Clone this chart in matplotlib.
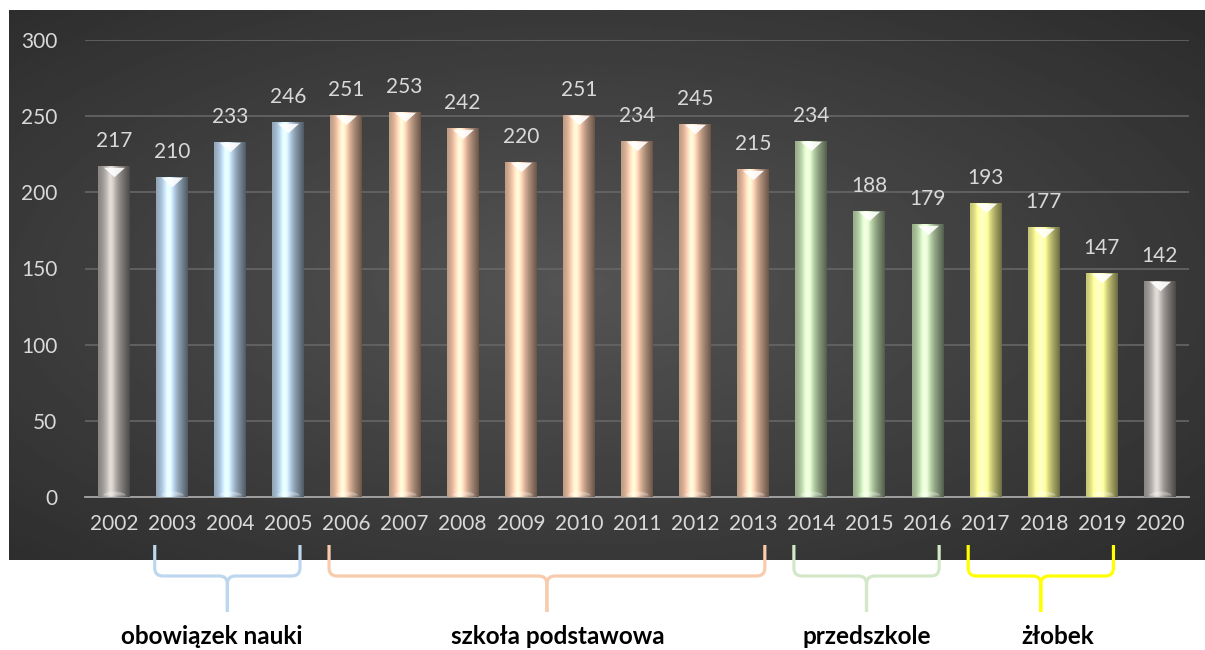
import numpy as np
import matplotlib.pyplot as plt
from matplotlib.path import Path
from matplotlib.patches import PathPatch
from matplotlib.colors import to_rgb
import matplotlib.transforms as mtransforms

plt.rcParams['font.family'] = ['Lato', 'DejaVu Sans']

years = [str(y) for y in range(2002, 2021)]
values = [217, 210, 233, 246, 251, 253, 242, 220, 251, 234, 245, 215,
          234, 188, 179, 193, 177, 147, 142]
bar_colors = (['#B3AEAA'] + ['#BDD7EE'] * 3 + ['#F8CBAD'] * 8 +
              ['#C5E0B4'] * 3 + ['#FFFF99'] * 3 + ['#B3AEAA'])

groups = ['obowiązek nauki', 'szkoła podstawowa', 'przedszkole', 'żłobek']
group_span = [(1, 3), (4, 11), (12, 14), (15, 17)]
group_colors = ['#BDD7EE', '#F8CBAD', '#D3E8C8', '#FFFF00']
label_shift = [-16, 11, 0, 17]  # px, label vs brace tip

W, H = 1205, 650
fig = plt.figure(figsize=(W / 100, H / 100), dpi=100)

# dark gradient panel
bg = fig.add_axes([9 / W, (H - 560) / H, (W - 9) / W, 550 / H])
yy, xx = np.mgrid[-1:1:200j, -1:1:400j]
r = np.sqrt(((xx + 0.05) / 1.1) ** 2 + (yy / 1.1) ** 2)
bg.imshow(np.clip(0.33 - 0.12 * r, 0.14, 1), cmap='gray', vmin=0, vmax=1,
          aspect='auto', extent=[0, 1, 0, 1])
bg.axis('off')

ax = fig.add_axes([85 / W, (H - 497) / H, 1104 / W, 457 / H])
ax.patch.set_alpha(0)
x = np.arange(len(years))
bw = 0.55
bars = ax.bar(x, values, width=bw, color=bar_colors, zorder=2)

prof = np.linspace(0, 1, 60)
shade = 0.72 + 0.38 * np.exp(-((prof - 0.4) / 0.28) ** 2) - 0.3 * prof ** 4
glow = 0.12 * np.exp(-((prof - 0.4) / 0.12) ** 2)
for b, c, v, xi in zip(bars, bar_colors, values, x):
    base = np.array(to_rgb(c))
    img = np.clip(base[None, :] * shade[:, None] + glow[:, None], 0, 1)
    im = ax.imshow(img[None, :, :], extent=[xi - bw / 2, xi + bw / 2, 0, v],
                   aspect='auto', zorder=3)
    im.set_clip_path(b)
    ax.annotate(str(v), (xi, v), xytext=(0, 18), textcoords='offset points',
                ha='center', va='center', color='#D9D9D9', fontsize=15,
                annotation_clip=False)

tri = [(-1, 0.45), (1, 0.45), (0, -0.45), (-1, 0.45)]
ax.scatter(x, np.array(values) - 3.5, marker=tri, s=230, color='white',
           alpha=0.9, linewidths=0, zorder=4)
t = np.linspace(0, np.pi, 30)
dome = list(zip(np.cos(t), 0.35 * np.sin(t)))
ax.scatter(x, np.full(len(x), 1.5), marker=dome, s=260, color='white',
           alpha=0.3, linewidths=0, zorder=4)

ax.set_xlim(-0.5, len(years) - 0.5)
ax.set_ylim(0, 300)
ax.set_yticks(range(0, 301, 50))
ax.set_xticks(x)
ax.set_xticklabels(years)
ax.yaxis.grid(True, color='#666666', linewidth=1.2, zorder=0)
ax.set_axisbelow(True)
for s in ['top', 'right', 'left']:
    ax.spines[s].set_visible(False)
ax.spines['bottom'].set_color('#A6A6A6')
ax.spines['bottom'].set_linewidth(1.3)
ax.tick_params(axis='both', length=0, colors='#D9D9D9', labelsize=15)
ax.tick_params(axis='y', pad=20)
ax.tick_params(axis='x', pad=12)

# braces under year labels
trans = mtransforms.blended_transform_factory(ax.transData, fig.transFigure)
y_top, y_mid, y_bot = (H - 545) / H, (H - 576) / H, (H - 612) / H
ry = 8 / H
rx = 0.14
for (i0, i1), name, col, dx in zip(group_span, groups, group_colors, label_shift):
    x0, x1 = i0 - 0.3, i1 + 0.2
    xc = (x0 + x1) / 2
    for xs, sgn in [(x0, 1), (x1, -1)]:
        verts = [(xs, y_top), (xs, y_mid + ry), (xs, y_mid), (xs + sgn * rx, y_mid),
                 (xc - sgn * rx, y_mid), (xc, y_mid), (xc, y_mid - ry), (xc, y_bot)]
        codes = [Path.MOVETO, Path.LINETO, Path.CURVE3, Path.CURVE3,
                 Path.LINETO, Path.CURVE3, Path.CURVE3, Path.LINETO]
        fig.add_artist(PathPatch(Path(verts, codes), transform=trans, fill=False,
                                 edgecolor=col, linewidth=2.3, capstyle='butt'))
    off = mtransforms.offset_copy(trans, fig=fig, x=dx, units='dots')
    fig.text(xc, (H - 637) / H, name, transform=off, ha='center', va='center',
             fontsize=17.5, fontweight='bold', color='black')

fig.savefig('out.png', dpi=100)
